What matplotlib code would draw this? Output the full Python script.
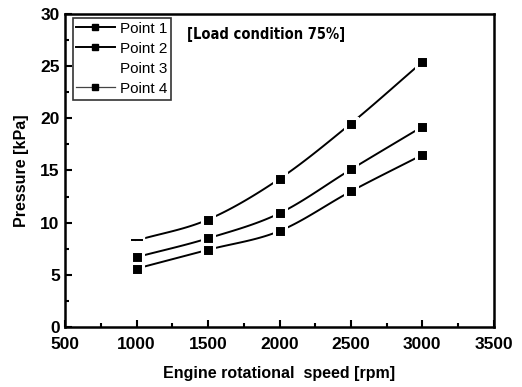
import numpy as np
import matplotlib.pyplot as plt
from matplotlib.lines import Line2D
from matplotlib.ticker import MultipleLocator

plt.rcParams['font.family'] = ['Liberation Sans', 'DejaVu Sans']

speed = [1000, 1500, 2000, 2500, 3000]
point_1 = [8.3, 10.3, 14.2, 19.5, 25.4]
point_2 = [6.7, 8.5, 10.9, 15.1, 19.2]
point_4 = [5.6, 7.4, 9.2, 13.0, 16.5]


def smooth(xs, ys, n=30):
    # Catmull-Rom pass through the measured points
    xs = np.asarray(xs, float)
    ys = np.asarray(ys, float)
    px = np.concatenate([[2 * xs[0] - xs[1]], xs, [2 * xs[-1] - xs[-2]]])
    py = np.concatenate([[2 * ys[0] - ys[1]], ys, [2 * ys[-1] - ys[-2]]])
    outx, outy = [], []
    t = np.linspace(0, 1, n)
    for i in range(1, len(px) - 2):
        for p, out in ((px, outx), (py, outy)):
            p0, p1, p2, p3 = p[i - 1], p[i], p[i + 1], p[i + 2]
            out.extend(0.5 * ((2 * p1) + (-p0 + p2) * t +
                              (2 * p0 - 5 * p1 + 4 * p2 - p3) * t ** 2 +
                              (-p0 + 3 * p1 - 3 * p2 + p3) * t ** 3))
    return np.array(outx), np.array(outy)


fig = plt.figure(figsize=(5.22, 3.87), dpi=100)
ax = fig.add_axes([0.125, 0.155, 0.821, 0.809])

for ys, first in ((point_1, False), (point_2, True), (point_4, True)):
    sx, sy = smooth(speed, ys)
    ax.plot(sx, sy, color='black', lw=1.4, zorder=2)
    idx = list(range(len(speed))) if first else list(range(1, len(speed)))
    ax.plot([speed[i] for i in idx], [ys[i] for i in idx], ls='none', marker='s',
            ms=8, mfc='black', mec='white', mew=2.2, zorder=3)
    if not first:
        # open gap after the first point, with a short dash in place of a marker
        ax.plot(speed[0] + 20, ys[0], marker='s', ms=6, mfc='white', mec='white',
                ls='none', zorder=3)
        ax.plot(speed[0], ys[0], marker='_', ms=8, mew=1.4, color='black',
                ls='none', zorder=4)

ax.set_xlim(500, 3500)
ax.set_ylim(0, 30)
ax.xaxis.set_major_locator(MultipleLocator(500))
ax.xaxis.set_minor_locator(MultipleLocator(250))
ax.yaxis.set_major_locator(MultipleLocator(5))
ax.yaxis.set_minor_locator(MultipleLocator(2.5))
ax.tick_params(which='both', direction='in', top=False, right=False, width=1.5,
               labelsize=12.5)
ax.tick_params(axis='x', pad=7)
ax.tick_params(axis='y', pad=4)
ax.tick_params(which='major', length=5)
ax.tick_params(which='minor', length=3)
for lab in ax.get_xticklabels() + ax.get_yticklabels():
    lab.set_fontweight('bold')
for sp in ax.spines.values():
    sp.set_linewidth(1.8)

ax.set_xlabel('Engine rotational  speed [rpm]', fontsize=11.5, fontweight='bold',
              labelpad=10)
ax.set_ylabel('Pressure [kPa]', fontsize=11.5, fontweight='bold', labelpad=8)

handles = [
    Line2D([], [], color='black', lw=1.4, marker='s', ms=5),
    Line2D([], [], color='black', lw=1.4, marker='s', ms=5),
    Line2D([], [], color='none', lw=1.4),
    Line2D([], [], color='#444444', lw=0.9, marker='s', ms=5, mfc='black', mec='black'),
]
leg = ax.legend(handles, ['Point 1', 'Point 2', 'Point 3', 'Point 4'],
                loc='upper left', bbox_to_anchor=(0.017, 0.988), frameon=True,
                fancybox=False, edgecolor='black', handlelength=2.5,
                handletextpad=0.35, borderpad=0.25, labelspacing=0.4,
                borderaxespad=0, prop={'size': 11})
leg.get_frame().set_linewidth(1.2)

ax.text(0.285, 0.958, '[Load condition 75%]', transform=ax.transAxes,
        fontsize=10.5, fontweight='bold', fontstretch='condensed', va='top',
        ha='left', family='DejaVu Sans')

fig.savefig('out.png', dpi=100)
